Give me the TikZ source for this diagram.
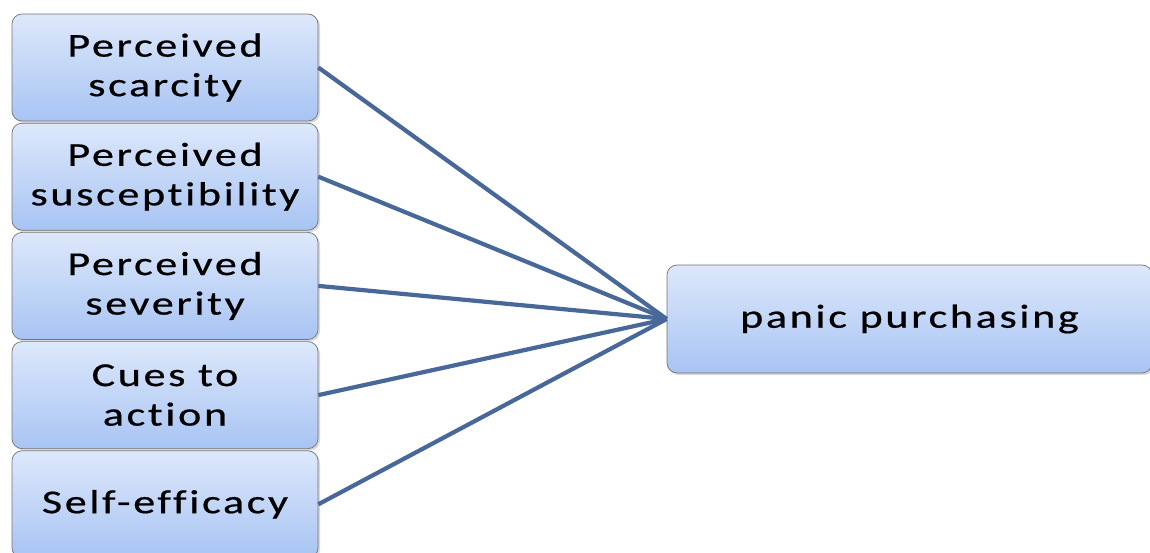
\documentclass[tikz,border=0pt]{standalone}
\usepackage{fontspec}
\setmainfont{Carlito}[FakeStretch=1.32, LetterSpace=8, FakeBold=0.6, Ligatures=NoCommon]
\usetikzlibrary{positioning, shadows}

\definecolor{boxtop}{HTML}{DDE8FB}
\definecolor{boxbot}{HTML}{A8C4F3}
\definecolor{linkblue}{HTML}{48689A}

\begin{document}
\begin{tikzpicture}[font=\fontsize{19}{22.5}\selectfont]
  \tikzstyle{factor}=[draw=black!55, rounded corners=0.2cm, top color=boxtop, bottom color=boxbot,
                      minimum width=6.12cm, minimum height=2.14cm, align=center, inner sep=0pt,
                      drop shadow={shadow xshift=0.04cm, shadow yshift=-0.04cm, opacity=0.3}]
  \tikzstyle{link}=[draw=linkblue, line width=2.4pt]
  \useasboundingbox (0,0) rectangle (23,11.06);

  \node[factor] (sc) at (3.30,9.71) {Perceived\\scarcity};
  \node[factor, below=0.03cm of sc] (su) {Perceived\\susceptibility};
  \node[factor, below=0.03cm of su] (sv) {Perceived\\severity};
  \node[factor, below=0.03cm of sv] (cu) {Cues to\\action};
  \node[factor, below=0.03cm of cu] (se) {Self-efficacy};
  \node[factor, minimum width=9.7cm, minimum height=2.16cm] (pp) at (18.19,4.68) {panic purchasing};

  \foreach \src in {sc, su, sv, cu, se}
    \draw[link] (\src.east) -- (pp.west);
\end{tikzpicture}
\end{document}
